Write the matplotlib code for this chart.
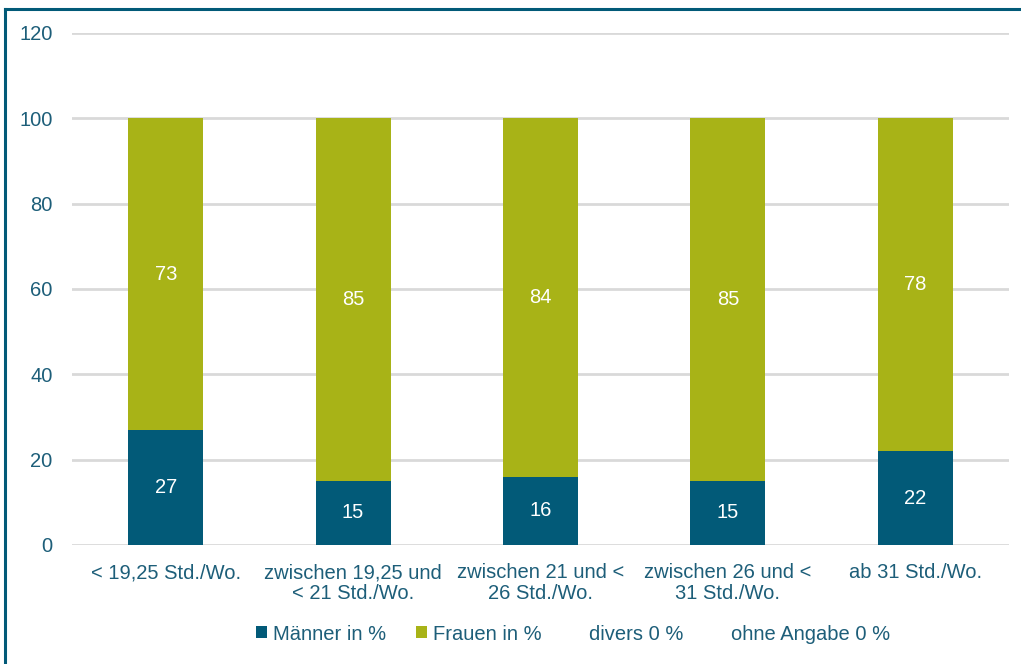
import matplotlib
matplotlib.use("Agg")
import matplotlib.pyplot as plt
from matplotlib.patches import Patch
from matplotlib.lines import Line2D

plt.rcParams['font.family'] = ['Liberation Sans', 'DejaVu Sans']

categories = ["< 19,25 Std./Wo.", "zwischen 19,25 und\n< 21 Std./Wo.",
              "zwischen 21 und <\n26 Std./Wo.", "zwischen 26 und <\n31 Std./Wo.",
              "ab 31 Std./Wo."]
maenner = [27, 15, 16, 15, 22]
frauen = [73, 85, 84, 85, 78]
divers = [0, 0, 0, 0, 0]
ohne_angabe = [0, 0, 0, 0, 0]
series_names = ["Männer in %", "Frauen in %", "divers 0 %", "ohne Angabe 0 %"]
yticks = [0, 20, 40, 60, 80, 100, 120]

c_m = "#025A78"
c_f = "#A8B317"
c_txt = "#1D5E79"
c_grid = "#D9D9D9"
fs = 14.5

fig = plt.figure(figsize=(10.21, 6.64), dpi=100)
ax = fig.add_axes([72/1021, 119/664, (1009-72)/1021, (631-119)/664])

x = list(range(len(categories)))
w = 0.40
ax.bar(x, maenner, width=w, color=c_m, zorder=3)
ax.bar(x, frauen, width=w, bottom=maenner, color=c_f, zorder=3)

for i in x:
    ax.text(i, maenner[i] / 2, f"{maenner[i]}", ha="center", va="center",
            color="white", fontsize=fs, zorder=4)
    ax.text(i, maenner[i] + frauen[i] / 2, f"{frauen[i]}", ha="center", va="center",
            color="white", fontsize=fs, zorder=4)

ax.set_xlim(-0.5, len(categories) - 0.5)
ax.set_ylim(0, 120)
ax.set_yticks(yticks)
ax.set_xticks(x)
ax.set_xticklabels(categories, fontsize=fs, color=c_txt, linespacing=1.15)
ax.tick_params(axis="y", labelsize=fs, labelcolor=c_txt, length=0, pad=14)
ax.tick_params(axis="x", length=0, pad=13)
ax.grid(axis="y", color=c_grid, linewidth=2, zorder=0)
for s in ax.spines.values():
    s.set_visible(False)

handles = [Patch(facecolor=c_m), Patch(facecolor=c_f),
           Patch(facecolor="none", edgecolor="none"),
           Patch(facecolor="none", edgecolor="none")]
fig.legend(handles, series_names, loc="center", bbox_to_anchor=(573/1021, 1 - 634/664),
           ncol=4, frameon=False, fontsize=fs, handlelength=0.55, handleheight=0.55,
           handletextpad=0.3, columnspacing=1.5, labelcolor=c_txt)

# frame lines
fig.add_artist(Line2D([5/1021, 5/1021], [0, 1 - 9/664], transform=fig.transFigure,
                      color=c_m, linewidth=2.2))
fig.add_artist(Line2D([5/1021, 1], [1 - 9/664, 1 - 9/664], transform=fig.transFigure,
                      color=c_m, linewidth=2.2))

fig.savefig("out.png", dpi=100)
